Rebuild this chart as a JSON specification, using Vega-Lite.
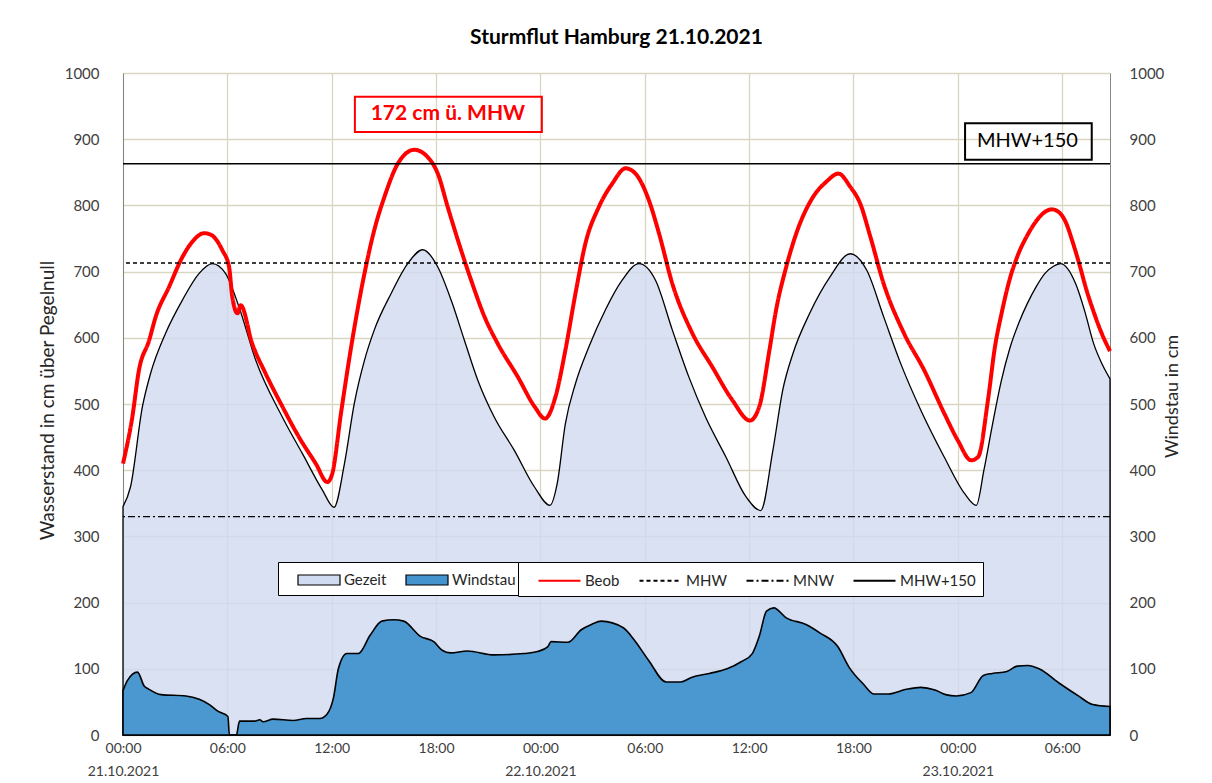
{
  "$schema": "https://vega.github.io/schema/vega-lite/v6.json",
  "width": 987,
  "height": 662,
  "autosize": {"type": "none"},
  "padding": {"left": 123, "top": 73, "right": 102, "bottom": 48},
  "background": "white",
  "title": {"text": "Sturmflut Hamburg 21.10.2021", "font": "Lato", "fontSize": 21, "fontWeight": "bold", "color": "#000000", "anchor": "middle", "offset": 18},
  "datasets": {
    "gezeit": [
      {"zeit": "2021-10-21T00:00:00Z", "wert": 345, "serie": "Gezeit"},
      {"zeit": "2021-10-21T00:26:00Z", "wert": 375, "serie": "Gezeit"},
      {"zeit": "2021-10-21T01:07:00Z", "wert": 496, "serie": "Gezeit"},
      {"zeit": "2021-10-21T01:35:00Z", "wert": 546, "serie": "Gezeit"},
      {"zeit": "2021-10-21T02:27:00Z", "wert": 607, "serie": "Gezeit"},
      {"zeit": "2021-10-21T03:25:00Z", "wert": 657, "serie": "Gezeit"},
      {"zeit": "2021-10-21T04:22:00Z", "wert": 697, "serie": "Gezeit"},
      {"zeit": "2021-10-21T05:08:00Z", "wert": 712, "serie": "Gezeit"},
      {"zeit": "2021-10-21T05:54:00Z", "wert": 697, "serie": "Gezeit"},
      {"zeit": "2021-10-21T06:40:00Z", "wert": 647, "serie": "Gezeit"},
      {"zeit": "2021-10-21T07:38:00Z", "wert": 566, "serie": "Gezeit"},
      {"zeit": "2021-10-21T09:10:00Z", "wert": 480, "serie": "Gezeit"},
      {"zeit": "2021-10-21T10:19:00Z", "wert": 425, "serie": "Gezeit"},
      {"zeit": "2021-10-21T11:28:00Z", "wert": 370, "serie": "Gezeit"},
      {"zeit": "2021-10-21T12:08:00Z", "wert": 344, "serie": "Gezeit"},
      {"zeit": "2021-10-21T12:44:00Z", "wert": 410, "serie": "Gezeit"},
      {"zeit": "2021-10-21T13:18:00Z", "wert": 501, "serie": "Gezeit"},
      {"zeit": "2021-10-21T13:53:00Z", "wert": 566, "serie": "Gezeit"},
      {"zeit": "2021-10-21T14:27:00Z", "wert": 612, "serie": "Gezeit"},
      {"zeit": "2021-10-21T15:25:00Z", "wert": 667, "serie": "Gezeit"},
      {"zeit": "2021-10-21T16:22:00Z", "wert": 712, "serie": "Gezeit"},
      {"zeit": "2021-10-21T17:14:00Z", "wert": 733, "serie": "Gezeit"},
      {"zeit": "2021-10-21T18:06:00Z", "wert": 707, "serie": "Gezeit"},
      {"zeit": "2021-10-21T18:52:00Z", "wert": 657, "serie": "Gezeit"},
      {"zeit": "2021-10-21T19:38:00Z", "wert": 596, "serie": "Gezeit"},
      {"zeit": "2021-10-21T20:24:00Z", "wert": 536, "serie": "Gezeit"},
      {"zeit": "2021-10-21T21:21:00Z", "wert": 480, "serie": "Gezeit"},
      {"zeit": "2021-10-21T22:30:00Z", "wert": 430, "serie": "Gezeit"},
      {"zeit": "2021-10-21T23:39:00Z", "wert": 375, "serie": "Gezeit"},
      {"zeit": "2021-10-22T00:33:00Z", "wert": 347, "serie": "Gezeit"},
      {"zeit": "2021-10-22T00:58:00Z", "wert": 380, "serie": "Gezeit"},
      {"zeit": "2021-10-22T01:26:00Z", "wert": 470, "serie": "Gezeit"},
      {"zeit": "2021-10-22T02:01:00Z", "wert": 531, "serie": "Gezeit"},
      {"zeit": "2021-10-22T02:47:00Z", "wert": 586, "serie": "Gezeit"},
      {"zeit": "2021-10-22T03:44:00Z", "wert": 642, "serie": "Gezeit"},
      {"zeit": "2021-10-22T04:42:00Z", "wert": 687, "serie": "Gezeit"},
      {"zeit": "2021-10-22T05:40:00Z", "wert": 712, "serie": "Gezeit"},
      {"zeit": "2021-10-22T06:37:00Z", "wert": 687, "serie": "Gezeit"},
      {"zeit": "2021-10-22T07:35:00Z", "wert": 612, "serie": "Gezeit"},
      {"zeit": "2021-10-22T08:32:00Z", "wert": 541, "serie": "Gezeit"},
      {"zeit": "2021-10-22T09:30:00Z", "wert": 480, "serie": "Gezeit"},
      {"zeit": "2021-10-22T10:40:00Z", "wert": 420, "serie": "Gezeit"},
      {"zeit": "2021-10-22T11:49:00Z", "wert": 360, "serie": "Gezeit"},
      {"zeit": "2021-10-22T12:40:00Z", "wert": 339, "serie": "Gezeit"},
      {"zeit": "2021-10-22T13:22:00Z", "wert": 430, "serie": "Gezeit"},
      {"zeit": "2021-10-22T13:56:00Z", "wert": 521, "serie": "Gezeit"},
      {"zeit": "2021-10-22T14:31:00Z", "wert": 576, "serie": "Gezeit"},
      {"zeit": "2021-10-22T15:29:00Z", "wert": 637, "serie": "Gezeit"},
      {"zeit": "2021-10-22T16:39:00Z", "wert": 692, "serie": "Gezeit"},
      {"zeit": "2021-10-22T17:49:00Z", "wert": 727, "serie": "Gezeit"},
      {"zeit": "2021-10-22T18:46:00Z", "wert": 702, "serie": "Gezeit"},
      {"zeit": "2021-10-22T19:44:00Z", "wert": 632, "serie": "Gezeit"},
      {"zeit": "2021-10-22T20:43:00Z", "wert": 561, "serie": "Gezeit"},
      {"zeit": "2021-10-22T21:52:00Z", "wert": 491, "serie": "Gezeit"},
      {"zeit": "2021-10-22T23:13:00Z", "wert": 420, "serie": "Gezeit"},
      {"zeit": "2021-10-23T00:23:00Z", "wert": 365, "serie": "Gezeit"},
      {"zeit": "2021-10-23T01:04:00Z", "wert": 347, "serie": "Gezeit"},
      {"zeit": "2021-10-23T01:30:00Z", "wert": 400, "serie": "Gezeit"},
      {"zeit": "2021-10-23T02:00:00Z", "wert": 470, "serie": "Gezeit"},
      {"zeit": "2021-10-23T02:30:00Z", "wert": 535, "serie": "Gezeit"},
      {"zeit": "2021-10-23T03:00:00Z", "wert": 585, "serie": "Gezeit"},
      {"zeit": "2021-10-23T03:30:00Z", "wert": 622, "serie": "Gezeit"},
      {"zeit": "2021-10-23T04:00:00Z", "wert": 652, "serie": "Gezeit"},
      {"zeit": "2021-10-23T04:30:00Z", "wert": 677, "serie": "Gezeit"},
      {"zeit": "2021-10-23T05:00:00Z", "wert": 697, "serie": "Gezeit"},
      {"zeit": "2021-10-23T05:30:00Z", "wert": 708, "serie": "Gezeit"},
      {"zeit": "2021-10-23T05:54:00Z", "wert": 712, "serie": "Gezeit"},
      {"zeit": "2021-10-23T06:18:00Z", "wert": 705, "serie": "Gezeit"},
      {"zeit": "2021-10-23T06:48:00Z", "wert": 680, "serie": "Gezeit"},
      {"zeit": "2021-10-23T07:18:00Z", "wert": 640, "serie": "Gezeit"},
      {"zeit": "2021-10-23T07:48:00Z", "wert": 592, "serie": "Gezeit"},
      {"zeit": "2021-10-23T08:18:00Z", "wert": 560, "serie": "Gezeit"},
      {"zeit": "2021-10-23T08:45:00Z", "wert": 538, "serie": "Gezeit"}
    ],
    "beob": [
      {"zeit": "2021-10-21T00:00:00Z", "wert": 410, "serie": "Beob"},
      {"zeit": "2021-10-21T00:32:00Z", "wert": 480, "serie": "Beob"},
      {"zeit": "2021-10-21T00:55:00Z", "wert": 551, "serie": "Beob"},
      {"zeit": "2021-10-21T01:30:00Z", "wert": 596, "serie": "Beob"},
      {"zeit": "2021-10-21T01:53:00Z", "wert": 632, "serie": "Beob"},
      {"zeit": "2021-10-21T02:39:00Z", "wert": 677, "serie": "Beob"},
      {"zeit": "2021-10-21T03:25:00Z", "wert": 722, "serie": "Beob"},
      {"zeit": "2021-10-21T03:59:00Z", "wert": 745, "serie": "Beob"},
      {"zeit": "2021-10-21T04:40:00Z", "wert": 758, "serie": "Beob"},
      {"zeit": "2021-10-21T05:02:00Z", "wert": 756, "serie": "Beob"},
      {"zeit": "2021-10-21T05:43:00Z", "wert": 732, "serie": "Beob"},
      {"zeit": "2021-10-21T06:06:00Z", "wert": 707, "serie": "Beob"},
      {"zeit": "2021-10-21T06:17:00Z", "wert": 662, "serie": "Beob"},
      {"zeit": "2021-10-21T06:35:00Z", "wert": 637, "serie": "Beob"},
      {"zeit": "2021-10-21T06:46:00Z", "wert": 649, "serie": "Beob"},
      {"zeit": "2021-10-21T07:26:00Z", "wert": 591, "serie": "Beob"},
      {"zeit": "2021-10-21T08:12:00Z", "wert": 546, "serie": "Beob"},
      {"zeit": "2021-10-21T09:10:00Z", "wert": 496, "serie": "Beob"},
      {"zeit": "2021-10-21T10:07:00Z", "wert": 450, "serie": "Beob"},
      {"zeit": "2021-10-21T11:05:00Z", "wert": 410, "serie": "Beob"},
      {"zeit": "2021-10-21T11:45:00Z", "wert": 382, "serie": "Beob"},
      {"zeit": "2021-10-21T12:02:00Z", "wert": 395, "serie": "Beob"},
      {"zeit": "2021-10-21T12:32:00Z", "wert": 486, "serie": "Beob"},
      {"zeit": "2021-10-21T13:07:00Z", "wert": 586, "serie": "Beob"},
      {"zeit": "2021-10-21T13:53:00Z", "wert": 697, "serie": "Beob"},
      {"zeit": "2021-10-21T14:27:00Z", "wert": 763, "serie": "Beob"},
      {"zeit": "2021-10-21T15:02:00Z", "wert": 813, "serie": "Beob"},
      {"zeit": "2021-10-21T15:48:00Z", "wert": 863, "serie": "Beob"},
      {"zeit": "2021-10-21T16:45:00Z", "wert": 884, "serie": "Beob"},
      {"zeit": "2021-10-21T17:31:00Z", "wert": 873, "serie": "Beob"},
      {"zeit": "2021-10-21T18:06:00Z", "wert": 848, "serie": "Beob"},
      {"zeit": "2021-10-21T18:40:00Z", "wert": 798, "serie": "Beob"},
      {"zeit": "2021-10-21T19:15:00Z", "wert": 748, "serie": "Beob"},
      {"zeit": "2021-10-21T20:01:00Z", "wert": 687, "serie": "Beob"},
      {"zeit": "2021-10-21T20:47:00Z", "wert": 632, "serie": "Beob"},
      {"zeit": "2021-10-21T21:33:00Z", "wert": 591, "serie": "Beob"},
      {"zeit": "2021-10-21T22:42:00Z", "wert": 541, "serie": "Beob"},
      {"zeit": "2021-10-21T23:40:00Z", "wert": 496, "serie": "Beob"},
      {"zeit": "2021-10-22T00:16:00Z", "wert": 478, "serie": "Beob"},
      {"zeit": "2021-10-22T00:52:00Z", "wert": 511, "serie": "Beob"},
      {"zeit": "2021-10-22T01:26:00Z", "wert": 581, "serie": "Beob"},
      {"zeit": "2021-10-22T02:01:00Z", "wert": 667, "serie": "Beob"},
      {"zeit": "2021-10-22T02:35:00Z", "wert": 742, "serie": "Beob"},
      {"zeit": "2021-10-22T03:22:00Z", "wert": 798, "serie": "Beob"},
      {"zeit": "2021-10-22T04:08:00Z", "wert": 833, "serie": "Beob"},
      {"zeit": "2021-10-22T04:54:00Z", "wert": 856, "serie": "Beob"},
      {"zeit": "2021-10-22T05:28:00Z", "wert": 848, "serie": "Beob"},
      {"zeit": "2021-10-22T06:14:00Z", "wert": 808, "serie": "Beob"},
      {"zeit": "2021-10-22T06:49:00Z", "wert": 758, "serie": "Beob"},
      {"zeit": "2021-10-22T07:35:00Z", "wert": 682, "serie": "Beob"},
      {"zeit": "2021-10-22T08:44:00Z", "wert": 607, "serie": "Beob"},
      {"zeit": "2021-10-22T09:53:00Z", "wert": 556, "serie": "Beob"},
      {"zeit": "2021-10-22T11:02:00Z", "wert": 506, "serie": "Beob"},
      {"zeit": "2021-10-22T12:03:00Z", "wert": 475, "serie": "Beob"},
      {"zeit": "2021-10-22T12:35:00Z", "wert": 496, "serie": "Beob"},
      {"zeit": "2021-10-22T13:10:00Z", "wert": 581, "serie": "Beob"},
      {"zeit": "2021-10-22T13:33:00Z", "wert": 642, "serie": "Beob"},
      {"zeit": "2021-10-22T14:08:00Z", "wert": 707, "serie": "Beob"},
      {"zeit": "2021-10-22T14:43:00Z", "wert": 758, "serie": "Beob"},
      {"zeit": "2021-10-22T15:41:00Z", "wert": 813, "serie": "Beob"},
      {"zeit": "2021-10-22T16:27:00Z", "wert": 836, "serie": "Beob"},
      {"zeit": "2021-10-22T17:08:00Z", "wert": 848, "serie": "Beob"},
      {"zeit": "2021-10-22T17:49:00Z", "wert": 828, "serie": "Beob"},
      {"zeit": "2021-10-22T18:23:00Z", "wert": 803, "serie": "Beob"},
      {"zeit": "2021-10-22T18:58:00Z", "wert": 753, "serie": "Beob"},
      {"zeit": "2021-10-22T19:44:00Z", "wert": 682, "serie": "Beob"},
      {"zeit": "2021-10-22T20:54:00Z", "wert": 607, "serie": "Beob"},
      {"zeit": "2021-10-22T22:04:00Z", "wert": 551, "serie": "Beob"},
      {"zeit": "2021-10-22T23:13:00Z", "wert": 486, "serie": "Beob"},
      {"zeit": "2021-10-23T00:00:00Z", "wert": 445, "serie": "Beob"},
      {"zeit": "2021-10-23T00:46:00Z", "wert": 415, "serie": "Beob"},
      {"zeit": "2021-10-23T01:10:00Z", "wert": 420, "serie": "Beob"},
      {"zeit": "2021-10-23T01:44:00Z", "wert": 506, "serie": "Beob"},
      {"zeit": "2021-10-23T02:08:00Z", "wert": 586, "serie": "Beob"},
      {"zeit": "2021-10-23T02:30:00Z", "wert": 635, "serie": "Beob"},
      {"zeit": "2021-10-23T03:00:00Z", "wert": 690, "serie": "Beob"},
      {"zeit": "2021-10-23T03:30:00Z", "wert": 728, "serie": "Beob"},
      {"zeit": "2021-10-23T04:00:00Z", "wert": 755, "serie": "Beob"},
      {"zeit": "2021-10-23T04:30:00Z", "wert": 776, "serie": "Beob"},
      {"zeit": "2021-10-23T05:00:00Z", "wert": 790, "serie": "Beob"},
      {"zeit": "2021-10-23T05:24:00Z", "wert": 794, "serie": "Beob"},
      {"zeit": "2021-10-23T05:48:00Z", "wert": 790, "serie": "Beob"},
      {"zeit": "2021-10-23T06:12:00Z", "wert": 775, "serie": "Beob"},
      {"zeit": "2021-10-23T06:36:00Z", "wert": 745, "serie": "Beob"},
      {"zeit": "2021-10-23T07:00:00Z", "wert": 710, "serie": "Beob"},
      {"zeit": "2021-10-23T07:24:00Z", "wert": 672, "serie": "Beob"},
      {"zeit": "2021-10-23T07:48:00Z", "wert": 640, "serie": "Beob"},
      {"zeit": "2021-10-23T08:18:00Z", "wert": 605, "serie": "Beob"},
      {"zeit": "2021-10-23T08:45:00Z", "wert": 580, "serie": "Beob"}
    ],
    "windstau": [
      {"zeit": "2021-10-21T00:00:00Z", "wert": 67, "serie": "Windstau"},
      {"zeit": "2021-10-21T00:15:00Z", "wert": 82, "serie": "Windstau"},
      {"zeit": "2021-10-21T00:50:00Z", "wert": 95, "serie": "Windstau"},
      {"zeit": "2021-10-21T01:13:00Z", "wert": 74, "serie": "Windstau"},
      {"zeit": "2021-10-21T01:30:00Z", "wert": 69, "serie": "Windstau"},
      {"zeit": "2021-10-21T02:11:00Z", "wert": 61, "serie": "Windstau"},
      {"zeit": "2021-10-21T03:37:00Z", "wert": 59, "serie": "Windstau"},
      {"zeit": "2021-10-21T04:23:00Z", "wert": 54, "serie": "Windstau"},
      {"zeit": "2021-10-21T04:58:00Z", "wert": 46, "serie": "Windstau"},
      {"zeit": "2021-10-21T05:27:00Z", "wert": 36, "serie": "Windstau"},
      {"zeit": "2021-10-21T06:02:00Z", "wert": 28, "serie": "Windstau"},
      {"zeit": "2021-10-21T06:07:00Z", "wert": 0, "serie": "Windstau"},
      {"zeit": "2021-10-21T06:31:00Z", "wert": 0, "serie": "Windstau"},
      {"zeit": "2021-10-21T06:42:00Z", "wert": 21, "serie": "Windstau"},
      {"zeit": "2021-10-21T07:34:00Z", "wert": 21, "serie": "Windstau"},
      {"zeit": "2021-10-21T07:52:00Z", "wert": 23, "serie": "Windstau"},
      {"zeit": "2021-10-21T08:03:00Z", "wert": 20, "serie": "Windstau"},
      {"zeit": "2021-10-21T08:38:00Z", "wert": 24, "serie": "Windstau"},
      {"zeit": "2021-10-21T09:47:00Z", "wert": 22, "serie": "Windstau"},
      {"zeit": "2021-10-21T10:33:00Z", "wert": 25, "serie": "Windstau"},
      {"zeit": "2021-10-21T11:19:00Z", "wert": 25, "serie": "Windstau"},
      {"zeit": "2021-10-21T11:43:00Z", "wert": 31, "serie": "Windstau"},
      {"zeit": "2021-10-21T12:06:00Z", "wert": 56, "serie": "Windstau"},
      {"zeit": "2021-10-21T12:23:00Z", "wert": 100, "serie": "Windstau"},
      {"zeit": "2021-10-21T12:52:00Z", "wert": 123, "serie": "Windstau"},
      {"zeit": "2021-10-21T13:32:00Z", "wert": 123, "serie": "Windstau"},
      {"zeit": "2021-10-21T14:13:00Z", "wert": 151, "serie": "Windstau"},
      {"zeit": "2021-10-21T14:53:00Z", "wert": 172, "serie": "Windstau"},
      {"zeit": "2021-10-21T15:34:00Z", "wert": 174, "serie": "Windstau"},
      {"zeit": "2021-10-21T16:08:00Z", "wert": 172, "serie": "Windstau"},
      {"zeit": "2021-10-21T17:06:00Z", "wert": 149, "serie": "Windstau"},
      {"zeit": "2021-10-21T17:52:00Z", "wert": 141, "serie": "Windstau"},
      {"zeit": "2021-10-21T18:21:00Z", "wert": 128, "serie": "Windstau"},
      {"zeit": "2021-10-21T18:50:00Z", "wert": 124, "serie": "Windstau"},
      {"zeit": "2021-10-21T19:48:00Z", "wert": 127, "serie": "Windstau"},
      {"zeit": "2021-10-21T21:20:00Z", "wert": 121, "serie": "Windstau"},
      {"zeit": "2021-10-21T23:04:00Z", "wert": 123, "serie": "Windstau"},
      {"zeit": "2021-10-21T23:50:00Z", "wert": 126, "serie": "Windstau"},
      {"zeit": "2021-10-22T00:25:00Z", "wert": 133, "serie": "Windstau"},
      {"zeit": "2021-10-22T00:37:00Z", "wert": 141, "serie": "Windstau"},
      {"zeit": "2021-10-22T01:35:00Z", "wert": 140, "serie": "Windstau"},
      {"zeit": "2021-10-22T02:21:00Z", "wert": 159, "serie": "Windstau"},
      {"zeit": "2021-10-22T02:56:00Z", "wert": 167, "serie": "Windstau"},
      {"zeit": "2021-10-22T03:30:00Z", "wert": 172, "serie": "Windstau"},
      {"zeit": "2021-10-22T04:46:00Z", "wert": 162, "serie": "Windstau"},
      {"zeit": "2021-10-22T05:23:00Z", "wert": 144, "serie": "Windstau"},
      {"zeit": "2021-10-22T06:13:00Z", "wert": 113, "serie": "Windstau"},
      {"zeit": "2021-10-22T07:14:00Z", "wert": 80, "serie": "Windstau"},
      {"zeit": "2021-10-22T08:04:00Z", "wert": 80, "serie": "Windstau"},
      {"zeit": "2021-10-22T08:41:00Z", "wert": 87, "serie": "Windstau"},
      {"zeit": "2021-10-22T09:43:00Z", "wert": 93, "serie": "Windstau"},
      {"zeit": "2021-10-22T10:44:00Z", "wert": 100, "serie": "Windstau"},
      {"zeit": "2021-10-22T11:34:00Z", "wert": 111, "serie": "Windstau"},
      {"zeit": "2021-10-22T12:11:00Z", "wert": 123, "serie": "Windstau"},
      {"zeit": "2021-10-22T12:35:00Z", "wert": 149, "serie": "Windstau"},
      {"zeit": "2021-10-22T13:00:00Z", "wert": 187, "serie": "Windstau"},
      {"zeit": "2021-10-22T13:25:00Z", "wert": 192, "serie": "Windstau"},
      {"zeit": "2021-10-22T14:08:00Z", "wert": 177, "serie": "Windstau"},
      {"zeit": "2021-10-22T15:16:00Z", "wert": 167, "serie": "Windstau"},
      {"zeit": "2021-10-22T16:05:00Z", "wert": 154, "serie": "Windstau"},
      {"zeit": "2021-10-22T17:07:00Z", "wert": 133, "serie": "Windstau"},
      {"zeit": "2021-10-22T17:44:00Z", "wert": 103, "serie": "Windstau"},
      {"zeit": "2021-10-22T18:34:00Z", "wert": 77, "serie": "Windstau"},
      {"zeit": "2021-10-22T19:11:00Z", "wert": 62, "serie": "Windstau"},
      {"zeit": "2021-10-22T20:00:00Z", "wert": 62, "serie": "Windstau"},
      {"zeit": "2021-10-22T21:02:00Z", "wert": 69, "serie": "Windstau"},
      {"zeit": "2021-10-22T21:52:00Z", "wert": 72, "serie": "Windstau"},
      {"zeit": "2021-10-22T22:41:00Z", "wert": 68, "serie": "Windstau"},
      {"zeit": "2021-10-22T23:18:00Z", "wert": 61, "serie": "Windstau"},
      {"zeit": "2021-10-22T23:55:00Z", "wert": 59, "serie": "Windstau"},
      {"zeit": "2021-10-23T00:45:00Z", "wert": 64, "serie": "Windstau"},
      {"zeit": "2021-10-23T01:28:00Z", "wert": 90, "serie": "Windstau"},
      {"zeit": "2021-10-23T01:59:00Z", "wert": 93, "serie": "Windstau"},
      {"zeit": "2021-10-23T02:49:00Z", "wert": 96, "serie": "Windstau"},
      {"zeit": "2021-10-23T03:25:00Z", "wert": 104, "serie": "Windstau"},
      {"zeit": "2021-10-23T04:02:00Z", "wert": 105, "serie": "Windstau"},
      {"zeit": "2021-10-23T04:40:00Z", "wert": 100, "serie": "Windstau"},
      {"zeit": "2021-10-23T05:54:00Z", "wert": 77, "serie": "Windstau"},
      {"zeit": "2021-10-23T06:56:00Z", "wert": 59, "serie": "Windstau"},
      {"zeit": "2021-10-23T07:45:00Z", "wert": 46, "serie": "Windstau"},
      {"zeit": "2021-10-23T08:45:00Z", "wert": 43, "serie": "Windstau"}
    ],
    "linien": [
      {"serie": "MHW", "wert": 713},
      {"serie": "MNW", "wert": 330},
      {"serie": "MHW+150", "wert": 863}
    ],
    "notizen": [
      {"text": "172 cm ü. MHW", "zeit": "2021-10-21T18:41:00Z", "wert": 938, "von": "2021-10-21T13:20:00Z", "bis": "2021-10-22T00:05:00Z", "unten": 911, "oben": 964},
      {"text": "MHW+150", "zeit": "2021-10-23T04:00:00Z", "wert": 897, "von": "2021-10-23T00:25:00Z", "bis": "2021-10-23T07:42:00Z", "unten": 869, "oben": 924}
    ]
  },
  "layer": [
    {
      "layer": [
        {
          "data": {"name": "gezeit"},
          "mark": {"type": "area", "interpolate": "monotone", "fillOpacity": 0.8, "stroke": "#000000", "strokeWidth": 1.3},
          "encoding": {
            "x": {
              "field": "zeit", "type": "temporal",
              "scale": {"type": "utc", "domain": [{"year": 2021, "month": 10, "date": 21, "hours": 0, "utc": true}, {"year": 2021, "month": 10, "date": 23, "hours": 8, "minutes": 45, "utc": true}]},
              "axis": {
                "title": null,
                "values": [
                  {"year": 2021, "month": 10, "date": 21, "hours": 0, "utc": true},
                  {"year": 2021, "month": 10, "date": 21, "hours": 6, "utc": true},
                  {"year": 2021, "month": 10, "date": 21, "hours": 12, "utc": true},
                  {"year": 2021, "month": 10, "date": 21, "hours": 18, "utc": true},
                  {"year": 2021, "month": 10, "date": 22, "hours": 0, "utc": true},
                  {"year": 2021, "month": 10, "date": 22, "hours": 6, "utc": true},
                  {"year": 2021, "month": 10, "date": 22, "hours": 12, "utc": true},
                  {"year": 2021, "month": 10, "date": 22, "hours": 18, "utc": true},
                  {"year": 2021, "month": 10, "date": 23, "hours": 0, "utc": true},
                  {"year": 2021, "month": 10, "date": 23, "hours": 6, "utc": true}
                ],
                "labelExpr": "utchours(datum.value) == 0 ? [utcFormat(datum.value, '%H:%M'), utcFormat(datum.value, '%d.%m.%Y')] : utcFormat(datum.value, '%H:%M')",
                "labelOverlap": false,
                "labelFlush": false,
                "labelFont": "Lato",
                "labelFontSize": 14,
                "labelColor": "#404040",
                "labelLineHeight": 23,
                "labelPadding": 6,
                "ticks": false,
                "domainColor": "#868686",
                "gridColor": "#d9d5c3",
                "gridWidth": 1.3
              }
            },
            "y": {
              "field": "wert", "type": "quantitative",
              "scale": {"domain": [0, 1000], "nice": false},
              "axis": {
                "title": "Wasserstand in cm über Pegelnull",
                "values": [0, 100, 200, 300, 400, 500, 600, 700, 800, 900, 1000],
                "labelExpr": "datum.value",
                "ticks": false,
                "labelFont": "Lato",
                "labelFontSize": 15,
                "labelColor": "#404040",
                "labelPadding": 24,
                "domainColor": "#868686",
                "gridColor": "#d9d5c3",
                "gridWidth": 1.3,
                "titleFont": "Lato",
                "titleFontSize": 19,
                "titleFontWeight": "normal",
                "titleColor": "#262626",
                "titleAngle": 270,
                "titleAlign": "center",
                "titleBaseline": "middle",
                "titleX": -76,
                "titleY": 327
              }
            },
            "fill": {
              "field": "serie", "type": "nominal",
              "scale": {"domain": ["Gezeit", "Windstau"], "range": ["#d0daf0", "#4393cf"]},
              "legend": {
                "title": null,
                "orient": "none",
                "legendX": 155,
                "legendY": 489,
                "direction": "horizontal",
                "padding": 7,
                "strokeColor": "#000000",
                "fillColor": "#ffffff",
                "labelFont": "Lato",
                "labelFontSize": 15,
                "labelColor": "#262626",
                "symbolType": "M-2.1,-0.5H2.1V0.5H-2.1Z",
                "symbolSize": 400,
                "symbolStrokeColor": "#000000",
                "symbolStrokeWidth": 1.2,
                "symbolOpacity": 1,
                "symbolOffset": 23,
                "labelOffset": 14,
                "columnPadding": 6
              }
            }
          }
        },
        {
          "data": {"name": "beob"},
          "mark": {"type": "line", "interpolate": "monotone", "strokeWidth": 4},
          "encoding": {
            "x": {"field": "zeit", "type": "temporal"},
            "y": {"field": "wert", "type": "quantitative"},
            "stroke": {
              "field": "serie", "type": "nominal",
              "scale": {"domain": ["Beob", "MHW", "MNW", "MHW+150"], "range": ["#ff0000", "#000000", "#000000", "#000000"]},
              "legend": {
                "title": null,
                "orient": "none",
                "legendX": 395,
                "legendY": 489,
                "direction": "horizontal",
                "padding": 7,
                "strokeColor": "#000000",
                "fillColor": "#ffffff",
                "labelFont": "Lato",
                "labelFontSize": 15,
                "labelColor": "#262626",
                "symbolType": "M-2.1,0H2.1",
                "symbolSize": 400,
                "symbolStrokeWidth": 2.2,
                "symbolOpacity": 1,
                "symbolOffset": 23,
                "labelOffset": 14,
                "columnPadding": 6
              }
            },
            "strokeDash": {
              "field": "serie", "type": "nominal",
              "scale": {"domain": ["Beob", "MHW", "MNW", "MHW+150"], "range": [[1, 0], [4, 3], [7, 3, 2, 3], [1, 0]]}
            }
          }
        },
        {
          "data": {"name": "linien"},
          "transform": [{"filter": "datum.serie == 'MHW'"}],
          "mark": {"type": "rule", "strokeWidth": 1.5},
          "encoding": {
            "y": {"field": "wert", "type": "quantitative"},
            "stroke": {"field": "serie", "type": "nominal"},
            "strokeDash": {"field": "serie", "type": "nominal"}
          }
        },
        {
          "data": {"name": "linien"},
          "transform": [{"filter": "datum.serie == 'MNW'"}],
          "mark": {"type": "rule", "strokeWidth": 1.3},
          "encoding": {
            "y": {"field": "wert", "type": "quantitative"},
            "stroke": {"field": "serie", "type": "nominal"},
            "strokeDash": {"field": "serie", "type": "nominal"}
          }
        },
        {
          "data": {"name": "linien"},
          "transform": [{"filter": "datum.serie == 'MHW+150'"}],
          "mark": {"type": "rule", "strokeWidth": 1.5},
          "encoding": {
            "y": {"field": "wert", "type": "quantitative"},
            "stroke": {"field": "serie", "type": "nominal"},
            "strokeDash": {"field": "serie", "type": "nominal"}
          }
        },
        {
          "data": {"name": "notizen"},
          "transform": [{"filter": "datum.text == '172 cm ü. MHW'"}],
          "mark": {"type": "rect", "fillOpacity": 0, "stroke": "#ff0000", "strokeWidth": 2},
          "encoding": {
            "x": {"field": "von", "type": "temporal"},
            "x2": {"field": "bis"},
            "y": {"field": "unten", "type": "quantitative"},
            "y2": {"field": "oben"}
          }
        },
        {
          "data": {"name": "notizen"},
          "transform": [{"filter": "datum.text == 'MHW+150'"}],
          "mark": {"type": "rect", "fillOpacity": 0, "stroke": "#000000", "strokeWidth": 2},
          "encoding": {
            "x": {"field": "von", "type": "temporal"},
            "x2": {"field": "bis"},
            "y": {"field": "unten", "type": "quantitative"},
            "y2": {"field": "oben"}
          }
        },
        {
          "data": {"name": "notizen"},
          "transform": [{"filter": "datum.text == '172 cm ü. MHW'"}],
          "mark": {"type": "text", "font": "Lato", "fontSize": 21, "fontWeight": "bold", "fill": "#ff0000", "align": "center", "baseline": "middle"},
          "encoding": {
            "x": {"field": "zeit", "type": "temporal"},
            "y": {"field": "wert", "type": "quantitative"},
            "text": {"field": "text"}
          }
        },
        {
          "data": {"name": "notizen"},
          "transform": [{"filter": "datum.text == 'MHW+150'"}],
          "mark": {"type": "text", "font": "Lato", "fontSize": 20, "fill": "#000000", "align": "center", "baseline": "middle"},
          "encoding": {
            "x": {"field": "zeit", "type": "temporal"},
            "y": {"field": "wert", "type": "quantitative"},
            "text": {"field": "text"}
          }
        }
      ]
    },
    {
      "layer": [
        {
          "data": {"name": "windstau"},
          "mark": {"type": "area", "interpolate": "monotone", "fillOpacity": 0.95, "stroke": "#000000", "strokeWidth": 1.6},
          "encoding": {
            "x": {"field": "zeit", "type": "temporal"},
            "y": {
              "field": "wert", "type": "quantitative",
              "scale": {"domain": [0, 1000], "nice": false},
              "axis": {
                "orient": "right",
                "title": "Windstau in cm",
                "values": [0, 100, 200, 300, 400, 500, 600, 700, 800, 900, 1000],
                "labelExpr": "datum.value",
                "ticks": false,
                "grid": false,
                "labelFont": "Lato",
                "labelFontSize": 15,
                "labelColor": "#404040",
                "labelPadding": 19,
                "domainColor": "#868686",
                "titleFont": "Lato",
                "titleFontSize": 18,
                "titleFontWeight": "normal",
                "titleColor": "#262626",
                "titleAngle": 270,
                "titleAlign": "center",
                "titleBaseline": "middle",
                "titleX": 62,
                "titleY": 323
              }
            },
            "fill": {"field": "serie", "type": "nominal"}
          }
        }
      ]
    }
  ],
  "resolve": {"scale": {"y": "independent"}},
  "config": {
    "font": "Lato",
    "view": {"stroke": null}
  }
}
